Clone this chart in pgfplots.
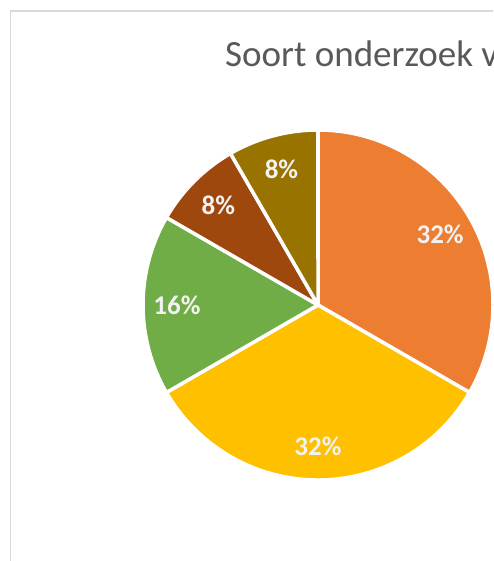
\documentclass[border=0pt]{standalone}
\usepackage{pgfplots}
\usepackage{pgfplotstable}
\pgfplotsset{compat=1.18}
\usetikzlibrary{calc}
\usepackage{fontspec}
\setmainfont{Carlito}
\definecolor{pieorange}{HTML}{ED7D31}
\definecolor{pieyellow}{HTML}{FFC000}
\definecolor{piegreen}{HTML}{70AD47}
\definecolor{piebrown}{HTML}{9E480E}
\definecolor{pieolive}{HTML}{997300}
\definecolor{titlegrey}{HTML}{595959}
\definecolor{framegrey}{HTML}{D9D9D9}
\definecolor{labwhite}{HTML}{F2F2F2}

\pgfplotstableread{
value color
32 pieorange
32 pieyellow
16 piegreen
8 piebrown
8 pieolive
}\piedata

\begin{document}
\begin{tikzpicture}[x=1pt,y=1pt]
\useasboundingbox (0,0) rectangle (493,561);
\fill[white] (0,0) rectangle (493,561);
\clip (0,0) rectangle (493,561);
\begin{axis}[hide axis, scale only axis, width=493pt, height=561pt,
  xmin=0, xmax=493, ymin=0, ymax=561, clip=false, anchor=south west, at={(0,0)}]
\pgfplotstablegetrowsof{\piedata}
\pgfmathtruncatemacro\nrows{\pgfplotsretval-1}
\def\total{96}
\def\cum{90}
\pgfplotsforeachungrouped \i in {0,...,\nrows}{%
  \pgfplotstablegetelem{\i}{value}\of\piedata \let\val\pgfplotsretval
  \pgfplotstablegetelem{\i}{color}\of\piedata \let\col\pgfplotsretval
  \pgfmathsetmacro\endang{\cum-\val/\total*360}%
  \pgfmathsetmacro\midang{(\cum+\endang)/2}%
  \pgfmathtruncatemacro\pct{\val}%
  \edef\temp{\noexpand\fill[\col, draw=white, line width=3.5pt, line join=round]
    (axis cs:318,256) -- ++(\cum:175pt) arc[start angle=\cum, end angle=\endang, radius=175pt] -- cycle;
    \noexpand\node[text=labwhite, font=\noexpand\fontsize{27}{32}\noexpand\selectfont\noexpand\bfseries]
    at ($(axis cs:318,256)+(\midang:141pt)$) {\pct\noexpand\%};}%
  \temp
  \global\let\cum\endang
}
\end{axis}
\draw[framegrey, line width=1.5pt] (10.5,0) -- (10.5,550) -- (500,550);
\node[anchor=base west, text=titlegrey, font=\fontsize{37}{44}\selectfont, inner sep=0pt] at (225,494) {Soort onderzoek v};
\end{tikzpicture}
\end{document}
